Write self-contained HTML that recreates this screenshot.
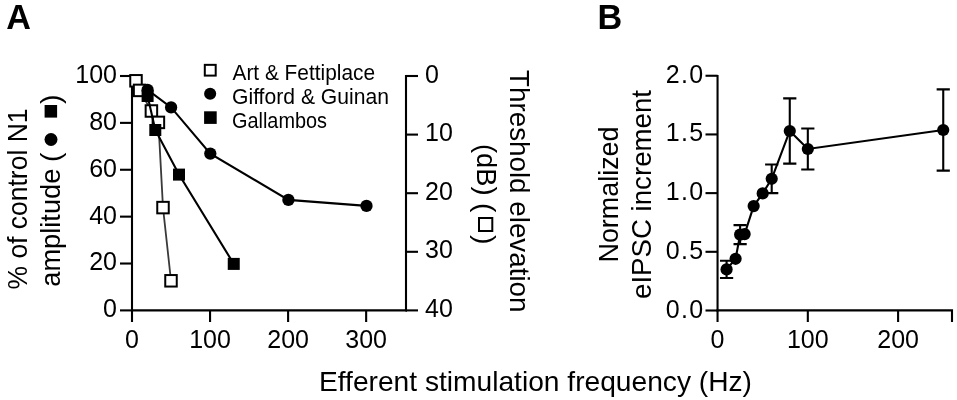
<!DOCTYPE html><html><head><meta charset="utf-8"><style>html,body{margin:0;padding:0;background:#fff;}svg{display:block;filter:grayscale(1);}</style></head><body>
<svg width="957" height="400" viewBox="0 0 957 400" font-family='"Liberation Sans", sans-serif'>
<rect width="957" height="400" fill="#fff"/>
<text x="6.3" y="28.9" font-size="34.2" font-weight="bold">A</text>
<text x="597.4" y="28.9" font-size="34.2" font-weight="bold">B</text>
<g stroke="#000" stroke-width="2.1" fill="none" stroke-linecap="butt">
<path d="M132.00 75.00 V311.40"/>
<path d="M406.00 75.00 V311.40"/>
<path d="M131.00 310.40 H407.00"/>
<path d="M120 310.40 H132.00"/>
<path d="M120 263.52 H132.00"/>
<path d="M120 216.64 H132.00"/>
<path d="M120 169.76 H132.00"/>
<path d="M120 122.88 H132.00"/>
<path d="M120 76.00 H132.00"/>
<path d="M406.00 76.00 H418"/>
<path d="M406.00 134.60 H418"/>
<path d="M406.00 193.20 H418"/>
<path d="M406.00 251.80 H418"/>
<path d="M406.00 310.40 H418"/>
<path d="M132.00 310.40 V322"/>
<path d="M210.05 310.40 V322"/>
<path d="M288.10 310.40 V322"/>
<path d="M366.15 310.40 V322"/>
</g>
<g font-size="25" fill="#000">
<text x="117" y="317.30" text-anchor="end">0</text>
<text x="117" y="270.42" text-anchor="end">20</text>
<text x="117" y="223.54" text-anchor="end">40</text>
<text x="117" y="176.66" text-anchor="end">60</text>
<text x="117" y="129.78" text-anchor="end">80</text>
<text x="117" y="82.90" text-anchor="end">100</text>
<text x="425" y="82.50">0</text>
<text x="425" y="141.10">10</text>
<text x="425" y="199.70">20</text>
<text x="425" y="258.30">30</text>
<text x="425" y="316.90">40</text>
<text x="132.00" y="347.5" text-anchor="middle">0</text>
<text x="210.05" y="347.5" text-anchor="middle">100</text>
<text x="288.10" y="347.5" text-anchor="middle">200</text>
<text x="366.15" y="347.5" text-anchor="middle">300</text>
</g>
<g font-size="28.5" fill="#000">
<text transform="translate(26.7,289.5) rotate(-90)" textLength="181" lengthAdjust="spacingAndGlyphs">% of control N1</text>
<text transform="translate(60,286.7) rotate(-90)" textLength="118" lengthAdjust="spacingAndGlyphs">amplitude</text>
<text transform="translate(60,162) rotate(-90)">(</text>
<text transform="translate(60,104) rotate(-90)">)</text>
</g>
<circle cx="51" cy="139.5" r="6.5" fill="#000"/>
<rect x="44.6" y="105" width="12.5" height="12.6" fill="#000"/>
<g font-size="28.5" fill="#000">
<text transform="translate(510,70) rotate(90)" textLength="242.5" lengthAdjust="spacingAndGlyphs">Threshold elevation</text>
<text transform="translate(476.5,144) rotate(90)" textLength="51.5" lengthAdjust="spacingAndGlyphs">(dB)</text>
<text transform="translate(476,203) rotate(90)">(</text>
<text transform="translate(476,235) rotate(90)">)</text>
</g>
<rect x="479" y="218" width="13.3" height="13" fill="none" stroke="#000" stroke-width="2"/>
<g font-size="22" fill="#000">
<text x="232.5" y="80" textLength="142.5" lengthAdjust="spacingAndGlyphs">Art &amp; Fettiplace</text>
<text x="232" y="103.9" textLength="157" lengthAdjust="spacingAndGlyphs">Gifford &amp; Guinan</text>
<text x="232" y="127.9" textLength="95" lengthAdjust="spacingAndGlyphs">Gallambos</text>
</g>
<rect x="204.8" y="64.85" width="10.9" height="10.75" fill="#fff" stroke="#000" stroke-width="2"/>
<circle cx="210.15" cy="93.8" r="6.05" fill="#000"/>
<rect x="204.1" y="111.3" width="12.6" height="12.6" fill="#000"/>
<path d="M136.00 80.80 L139.60 90.40 L151.40 111.00 L158.40 122.40 L163.00 207.60 L171.00 280.80" stroke="#3a3a3a" stroke-width="1.8" fill="none"/>
<rect x="130.25" y="75.05" width="11.5" height="11.5" fill="#fff" stroke="#000" stroke-width="2"/>
<rect x="133.85" y="84.65" width="11.5" height="11.5" fill="#fff" stroke="#000" stroke-width="2"/>
<rect x="145.65" y="105.25" width="11.5" height="11.5" fill="#fff" stroke="#000" stroke-width="2"/>
<rect x="152.65" y="116.65" width="11.5" height="11.5" fill="#fff" stroke="#000" stroke-width="2"/>
<rect x="157.25" y="201.85" width="11.5" height="11.5" fill="#fff" stroke="#000" stroke-width="2"/>
<rect x="165.25" y="275.05" width="11.5" height="11.5" fill="#fff" stroke="#000" stroke-width="2"/>
<path d="M147.60 96.00 L155.30 130.00 L179.00 174.60 L233.75 263.90" stroke="#000" stroke-width="2.1" fill="none"/>
<path d="M147.60 89.90 L171.10 107.40 L210.30 153.60 L288.40 199.90 L366.50 205.90" stroke="#000" stroke-width="2.1" fill="none"/>
<rect x="141.60" y="90.00" width="12" height="12" fill="#000"/>
<rect x="149.30" y="124.00" width="12" height="12" fill="#000"/>
<rect x="173.00" y="168.60" width="12" height="12" fill="#000"/>
<rect x="227.75" y="257.90" width="12" height="12" fill="#000"/>
<circle cx="147.60" cy="89.90" r="6.15" fill="#000"/>
<circle cx="171.10" cy="107.40" r="6.15" fill="#000"/>
<circle cx="210.30" cy="153.60" r="6.15" fill="#000"/>
<circle cx="288.40" cy="199.90" r="6.15" fill="#000"/>
<circle cx="366.50" cy="205.90" r="6.15" fill="#000"/>
<g stroke="#000" stroke-width="2.1" fill="none">
<path d="M717.55 75.00 V311.40"/>
<path d="M716.55 310.40 H952.00 V322"/>
<path d="M705.5 310.50 H717.55"/>
<path d="M705.5 251.81 H717.55"/>
<path d="M705.5 193.12 H717.55"/>
<path d="M705.5 134.44 H717.55"/>
<path d="M705.5 75.75 H717.55"/>
<path d="M717.55 310.40 V322"/>
<path d="M807.82 310.40 V322"/>
<path d="M898.10 310.40 V322"/>
</g>
<g font-size="25" fill="#000">
<text x="665.8" y="317.50" textLength="37.3" lengthAdjust="spacing">0.0</text>
<text x="665.8" y="258.81" textLength="37.3" lengthAdjust="spacing">0.5</text>
<text x="665.8" y="200.12" textLength="37.3" lengthAdjust="spacing">1.0</text>
<text x="665.8" y="141.44" textLength="37.3" lengthAdjust="spacing">1.5</text>
<text x="665.8" y="82.75" textLength="37.3" lengthAdjust="spacing">2.0</text>
<text x="717.55" y="347.5" text-anchor="middle">0</text>
<text x="807.82" y="347.5" text-anchor="middle">100</text>
<text x="898.10" y="347.5" text-anchor="middle">200</text>
</g>
<g font-size="28.5" fill="#000">
<text transform="translate(617.8,262.5) rotate(-90)" textLength="136" lengthAdjust="spacingAndGlyphs">Normalized</text>
<text transform="translate(650.5,299) rotate(-90)" textLength="209" lengthAdjust="spacingAndGlyphs">eIPSC increment</text>
</g>
<path d="M726.58 269.40 L735.60 258.80 L740.12 234.60 L744.63 234.10 L753.66 206.10 L762.69 193.40 L771.71 178.80 L789.77 131.00 L807.82 149.00 L943.24 130.00" stroke="#000" stroke-width="2.1" fill="none"/>
<g stroke="#000" stroke-width="2.1" fill="none">
<path d="M726.58 260.80 V278.00 M719.98 260.80 H733.18 M719.98 278.00 H733.18"/>
<path d="M740.12 225.10 V244.10 M733.52 225.10 H746.72 M733.52 244.10 H746.72"/>
<path d="M771.71 164.50 V193.10 M765.11 164.50 H778.31 M765.11 193.10 H778.31"/>
<path d="M789.77 98.40 V163.60 M783.17 98.40 H796.37 M783.17 163.60 H796.37"/>
<path d="M807.82 128.50 V169.50 M801.22 128.50 H814.42 M801.22 169.50 H814.42"/>
<path d="M943.24 89.40 V170.60 M936.64 89.40 H949.84 M936.64 170.60 H949.84"/>
</g>
<circle cx="726.58" cy="269.40" r="6.1" fill="#000"/>
<circle cx="735.60" cy="258.80" r="6.1" fill="#000"/>
<circle cx="740.12" cy="234.60" r="6.1" fill="#000"/>
<circle cx="744.63" cy="234.10" r="6.1" fill="#000"/>
<circle cx="753.66" cy="206.10" r="6.1" fill="#000"/>
<circle cx="762.69" cy="193.40" r="6.1" fill="#000"/>
<circle cx="771.71" cy="178.80" r="6.1" fill="#000"/>
<circle cx="789.77" cy="131.00" r="6.1" fill="#000"/>
<circle cx="807.82" cy="149.00" r="6.1" fill="#000"/>
<circle cx="943.24" cy="130.00" r="6.1" fill="#000"/>
<text x="319" y="391.3" font-size="28.5" textLength="433" lengthAdjust="spacingAndGlyphs">Efferent stimulation frequency (Hz)</text>
</svg></body></html>
